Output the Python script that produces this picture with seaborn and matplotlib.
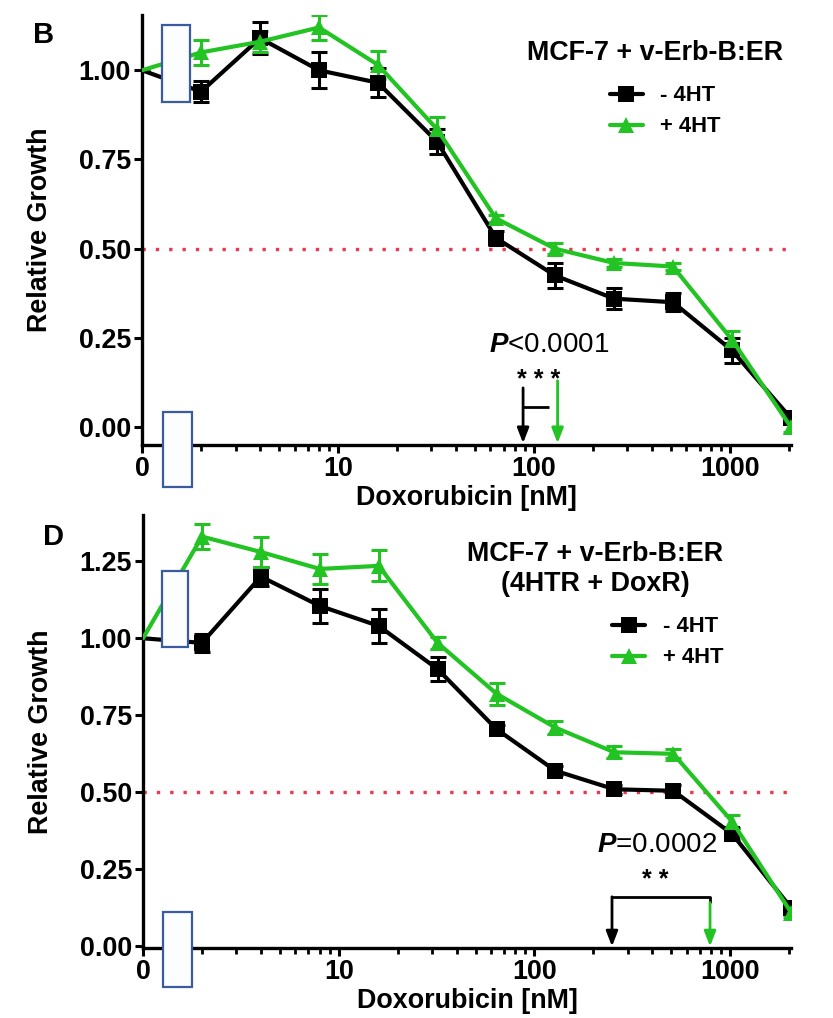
import numpy as np
import pandas as pd
import matplotlib
matplotlib.use("Agg")
import matplotlib.pyplot as plt
from matplotlib.lines import Line2D
from matplotlib.patches import Rectangle
from matplotlib.ticker import LogLocator, NullFormatter
import seaborn as sns

# --- data ---
dose = [0, 2, 4, 8, 16, 32, 64, 128, 256, 512, 1024, 2048]

# panel B: MCF-7 + v-Erb-B:ER
b_minus = [1.00, 0.94, 1.09, 1.00, 0.965, 0.80, 0.53, 0.425, 0.36, 0.35, 0.215, 0.025]
b_minus_err = [0.0, 0.03, 0.045, 0.05, 0.04, 0.035, 0.02, 0.035, 0.03, 0.025, 0.035, 0.015]
b_plus = [1.00, 1.05, 1.08, 1.12, 1.015, 0.835, 0.585, 0.50, 0.46, 0.45, 0.245, 0.0]
b_plus_err = [0.0, 0.035, 0.03, 0.035, 0.04, 0.035, 0.01, 0.015, 0.01, 0.01, 0.025, 0.015]

# panel D: MCF-7 + v-Erb-B:ER (4HTR + DoxR)
d_minus = [1.00, 0.985, 1.20, 1.105, 1.04, 0.90, 0.705, 0.57, 0.51, 0.505, 0.365, 0.125]
d_minus_err = [0.0, 0.03, 0.03, 0.055, 0.055, 0.04, 0.015, 0.015, 0.015, 0.02, 0.02, 0.015]
d_plus = [1.00, 1.33, 1.28, 1.225, 1.235, 0.985, 0.82, 0.71, 0.63, 0.625, 0.405, 0.11]
d_plus_err = [0.0, 0.04, 0.05, 0.05, 0.05, 0.02, 0.035, 0.02, 0.02, 0.015, 0.02, 0.015]

# IC50 arrows [-4HT, +4HT] in nM
ic50_b = [88, 132]
ic50_d = [249, 789]

groups = ["- 4HT", "+ 4HT"]
x_ticks = [1, 10, 100, 1000]
x_ticklabels = ["0", "10", "100", "1000"]
b_yticks = [0.0, 0.25, 0.5, 0.75, 1.0]
d_yticks = [0.0, 0.25, 0.5, 0.75, 1.0, 1.25]

GREEN = "#22c322"
RED = "#e8394d"
BOX_EDGE = "#3a5ba0"
BOX_FILL = "#fbfdff"
palette = {"- 4HT": "black", "+ 4HT": GREEN}
markers = {"- 4HT": "s", "+ 4HT": "^"}

sns.set_style("ticks")
plt.rcParams["font.family"] = ["Liberation Sans", "DejaVu Sans"]
plt.rcParams["font.weight"] = "bold"
plt.rcParams["text.color"] = "black"
plt.rcParams["axes.labelcolor"] = "black"
plt.rcParams["axes.edgecolor"] = "black"
plt.rcParams["xtick.color"] = "black"
plt.rcParams["ytick.color"] = "black"
plt.rcParams["mathtext.fontset"] = "custom"
plt.rcParams["mathtext.it"] = "Liberation Sans:italic"
plt.rcParams["mathtext.rm"] = "Liberation Sans"


def plot_x(d):
    # 0 nM is drawn at the left edge of the log axis (1 nM), like the break in Prism
    d = np.asarray(d, dtype=float)
    return np.where(d == 0, 1.0, d)


def draw_panel(ax, minus, minus_err, plus, plus_err, ylim, yticks, title, title_xy, leg_xy, boxes):
    df = pd.DataFrame({
        "x": np.tile(plot_x(dose), 2),
        "growth": minus + plus,
        "err": minus_err + plus_err,
        "group": [groups[0]] * len(dose) + [groups[1]] * len(dose),
    })
    ax.set_xscale("log")
    ax.axhline(0.5, color=RED, ls=(0, (1, 3)), lw=2.4, zorder=1)
    for g in groups:
        sub = df[df.group == g]
        ax.errorbar(sub.x, sub.growth, yerr=sub.err, fmt="none", ecolor=palette[g],
                    elinewidth=2.2, capsize=6, capthick=2.2, zorder=2)
    sns.lineplot(data=df, x="x", y="growth", hue="group", style="group",
                 hue_order=groups, style_order=groups, palette=palette,
                 markers=markers, dashes=False, markersize=11, linewidth=3,
                 markeredgewidth=0, markevery=list(range(1, len(dose))),
                 errorbar=None, legend=False, ax=ax, zorder=3)

    ax.set_xlim(1, 2048)
    ax.set_ylim(*ylim)
    ax.set_xticks(x_ticks)
    ax.set_xticklabels(x_ticklabels)
    ax.xaxis.set_minor_locator(LogLocator(base=10, subs=np.arange(2, 10)))
    ax.xaxis.set_minor_formatter(NullFormatter())
    ax.set_yticks(yticks)
    ax.set_yticklabels([f"{v:.2f}" for v in yticks])
    sns.despine(ax=ax)
    for s in ["left", "bottom"]:
        ax.spines[s].set_linewidth(2.4)
    ax.tick_params(axis="both", which="major", labelsize=19.4, width=2.2, length=6, pad=2)
    ax.tick_params(axis="x", which="minor", width=2.0, length=4.5)
    ax.set_xlabel("Doxorubicin [nM]", fontsize=19.4, fontweight="bold", labelpad=2)
    ax.set_ylabel("Relative Growth", fontsize=19.4, fontweight="bold")
    ax.yaxis.set_label_coords(-0.137, 0.5)

    ax.text(title_xy[0], title_xy[1], title, transform=ax.transAxes, ha="center",
            va="center", fontsize=19.4, fontweight="bold")
    handles = [Line2D([], [], color=palette[g], marker=markers[g], markersize=11,
                      lw=3, markeredgewidth=0) for g in groups]
    ax.legend(handles, groups, loc="upper left", bbox_to_anchor=leg_xy, frameon=False,
              prop={"size": 15.8, "weight": "bold"},
              handlelength=1.5, handletextpad=0.8, labelspacing=0.45,
              borderpad=0, borderaxespad=0)

    # axis-break boxes drawn over the 0 -> 2 nM segment
    for (x0, x1, y0, y1) in boxes:
        ax.add_patch(Rectangle((x0, y0), x1 - x0, y1 - y0, facecolor=BOX_FILL,
                               edgecolor=BOX_EDGE, lw=1.6, zorder=6, clip_on=False))


def ic50_marks(ax, ic50, y_top, y_tip, bracket, ptext, pxy, stars, sxy):
    head = "-|>,head_length=0.9,head_width=0.35"
    ax.annotate("", xy=(ic50[0], y_tip), xytext=(ic50[0], y_top[0]),
                arrowprops=dict(arrowstyle=head, color="black", lw=2, shrinkA=0, shrinkB=0))
    ax.annotate("", xy=(ic50[1], y_tip), xytext=(ic50[1], y_top[1]),
                arrowprops=dict(arrowstyle=head, color=GREEN, lw=2, shrinkA=0, shrinkB=0))
    ax.plot(bracket[0], bracket[1], color="black", lw=2, solid_capstyle="butt")
    ax.text(pxy[0], pxy[1], ptext, ha="center", va="center", fontsize=20, fontweight="normal")
    ax.text(sxy[0], sxy[1], stars, ha="center", va="baseline", fontsize=18, fontweight="bold")


fig = plt.figure(figsize=(8.33, 10.18), dpi=100)
axB = fig.add_axes([0.1705, 0.5629, 0.779, 0.4224])
axD = fig.add_axes([0.1717, 0.0688, 0.778, 0.4253])

draw_panel(axB, b_minus, b_minus_err, b_plus, b_plus_err, (-0.05, 1.155), b_yticks,
           "MCF-7 + v-Erb-B:ER", (0.790, 0.912), (0.721, 0.836),
           [(1.26, 1.75, 0.91, 1.126), (1.28, 1.80, -0.168, 0.042)])
ic50_marks(axB, ic50_b, [0.11, 0.13], -0.045,
           ([ic50_b[0], 120], [0.056, 0.056]),
           r"$\mathit{P}$<0.0001", (119, 0.23), "* * *", (106, 0.112))

draw_panel(axD, d_minus, d_minus_err, d_plus, d_plus_err, (-0.005, 1.40), d_yticks,
           "MCF-7 + v-Erb-B:ER\n(4HTR + DoxR)", (0.698, 0.875), (0.724, 0.766),
           [(1.25, 1.70, 0.973, 1.217), (1.27, 1.78, -0.131, 0.113)])
ic50_marks(axD, ic50_d, [0.161, 0.142], 0.0,
           ([ic50_d[0], ic50_d[1], ic50_d[1]], [0.161, 0.161, 0.142]),
           r"$\mathit{P}$=0.0002", (423, 0.33), "* *", (413, 0.192))

fig.text(33 / 833, 1 - 43 / 1018, "B", fontsize=21, fontweight="bold", ha="left", va="baseline")
fig.text(43 / 833, 1 - 545 / 1018, "D", fontsize=21, fontweight="bold", ha="left", va="baseline")

fig.savefig("out.png", dpi=100)
